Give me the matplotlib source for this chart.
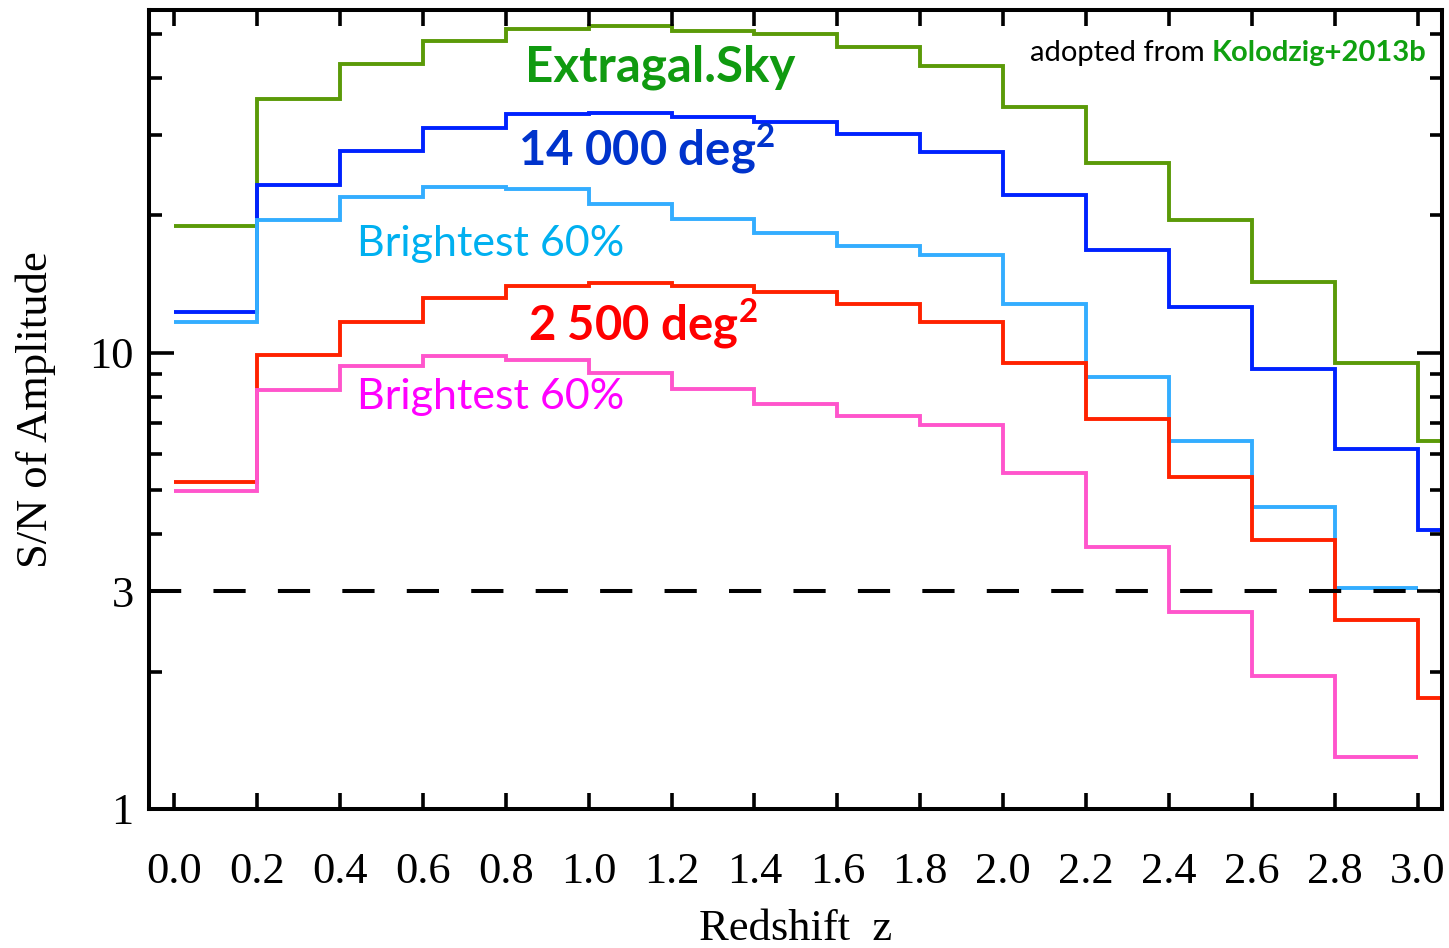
import numpy as np
import matplotlib.pyplot as plt
from matplotlib.ticker import FixedLocator, LogLocator, NullFormatter, FixedFormatter

# redshift bin edges (width 0.2); the three full surveys have one more bin past z=3
z_edges_long = [0.0, 0.2, 0.4, 0.6, 0.8, 1.0, 1.2, 1.4, 1.6, 1.8, 2.0, 2.2, 2.4, 2.6, 2.8, 3.0, 3.2]
z_edges_short = [0.0, 0.2, 0.4, 0.6, 0.8, 1.0, 1.2, 1.4, 1.6, 1.8, 2.0, 2.2, 2.4, 2.6, 2.8, 3.0]

# S/N of amplitude per bin
sn_extragal = [19.0, 36.0, 43.0, 48.3, 51.3, 52.1, 50.8, 50.0, 46.9, 42.6, 34.6, 26.1, 19.5, 14.3, 9.5, 6.4]
sn_14000 = [12.3, 23.3, 27.7, 31.1, 33.3, 33.5, 32.9, 32.1, 30.2, 27.5, 22.2, 16.8, 12.6, 9.2, 6.15, 4.09]
sn_14000_bright = [11.7, 19.5, 22.0, 23.1, 22.8, 21.2, 19.6, 18.3, 17.1, 16.4, 12.8, 8.84, 6.4, 4.59, 3.05]
sn_2500 = [5.21, 9.9, 11.7, 13.2, 14.0, 14.2, 14.0, 13.6, 12.8, 11.7, 9.5, 7.15, 5.34, 3.89, 2.60, 1.75]
sn_2500_bright = [4.98, 8.28, 9.34, 9.83, 9.63, 9.02, 8.32, 7.71, 7.26, 6.94, 5.45, 3.75, 2.70, 1.96, 1.30]

detection_limit = 3

x_ticks = [0.0, 0.2, 0.4, 0.6, 0.8, 1.0, 1.2, 1.4, 1.6, 1.8, 2.0, 2.2, 2.4, 2.6, 2.8, 3.0]
x_ticklabels = ["0.0", "0.2", "0.4", "0.6", "0.8", "1.0", "1.2", "1.4", "1.6", "1.8",
                "2.0", "2.2", "2.4", "2.6", "2.8", "3.0"]
y_ticks = [1, 3, 10]
y_ticklabels = ["1", "3", "10"]

serif = ["Liberation Serif", "DejaVu Serif"]
sans = ["Lato", "DejaVu Sans"]

# mathtext only used for the deg^2 superscripts
plt.rcParams["mathtext.fontset"] = "custom"
plt.rcParams["mathtext.rm"] = "Lato"
plt.rcParams["mathtext.bf"] = "Lato:bold"

fig = plt.figure(figsize=(14.49, 9.48), dpi=100)
ax = fig.add_axes([149 / 1449, 1 - 809 / 948, (1442 - 149) / 1449, (809 - 10) / 948])

lw = 2.8
ax.stairs(sn_extragal, z_edges_long, baseline=None, color="#5b9a08", lw=lw)
ax.stairs(sn_14000, z_edges_long, baseline=None, color="#0022ff", lw=lw)
ax.stairs(sn_14000_bright, z_edges_short, baseline=None, color="#33adff", lw=lw)
ax.stairs(sn_2500, z_edges_long, baseline=None, color="#ff2200", lw=lw)
ax.stairs(sn_2500_bright, z_edges_short, baseline=None, color="#ff55cc", lw=lw)

ax.axhline(detection_limit, color="black", lw=2.9, dashes=(8, 8))

ax.set_yscale("log")
ax.set_xlim(-0.06, 3.058)
ax.set_ylim(1.0, 56.4)

ax.xaxis.set_major_locator(FixedLocator(x_ticks))
ax.xaxis.set_major_formatter(FixedFormatter(x_ticklabels))
ax.yaxis.set_major_locator(FixedLocator(y_ticks))
ax.yaxis.set_major_formatter(FixedFormatter(y_ticklabels))
ax.yaxis.set_minor_locator(LogLocator(base=10, subs=range(2, 10)))
ax.yaxis.set_minor_formatter(NullFormatter())

ax.tick_params(axis="x", which="major", direction="in", top=True, length=11.5, width=2.6,
               pad=31, labelsize=32)
ax.tick_params(axis="y", which="major", direction="in", right=True, length=18, width=2.6,
               pad=11, labelsize=32)
ax.tick_params(axis="y", which="minor", direction="in", right=True, length=9, width=2.6)
for lab in ax.get_xticklabels() + ax.get_yticklabels():
    lab.set_family(serif)
for sp in ax.spines.values():
    sp.set_linewidth(2.9)

ax.set_xlabel("Redshift  z", family=serif, fontsize=32, labelpad=12)
ax.set_ylabel("S/N of Amplitude", family=serif, fontsize=32, labelpad=24)

# curve labels
ax.text(0.846, 39.3, "Extragal.Sky", color="#109a10", fontsize=35.5, fontweight="bold", family=sans)
ax.text(0.830, 25.8, r"14 000 deg$^\mathbf{2}$", color="#0033cc", fontsize=34,
        fontweight="bold", family=sans)
ax.text(0.441, 16.3, "Brightest 60%", color="#00b0f0", fontsize=31, family=sans)
ax.text(0.854, 10.7, r"2 500 deg$^\mathbf{2}$", color="#ff0000", fontsize=34,
        fontweight="bold", family=sans)
ax.text(0.441, 7.52, "Brightest 60%", color="#ff00ff", fontsize=31, family=sans)

t1 = ax.text(2.064, 43.6, "adopted from ", color="black", fontsize=21, family=sans)
ax.annotate("Kolodzig+2013b", xy=(1, 0), xycoords=t1, va="bottom", ha="left",
            color="#10a010", fontsize=21, fontweight="bold", family=sans)

fig.savefig("out.png", dpi=100)
